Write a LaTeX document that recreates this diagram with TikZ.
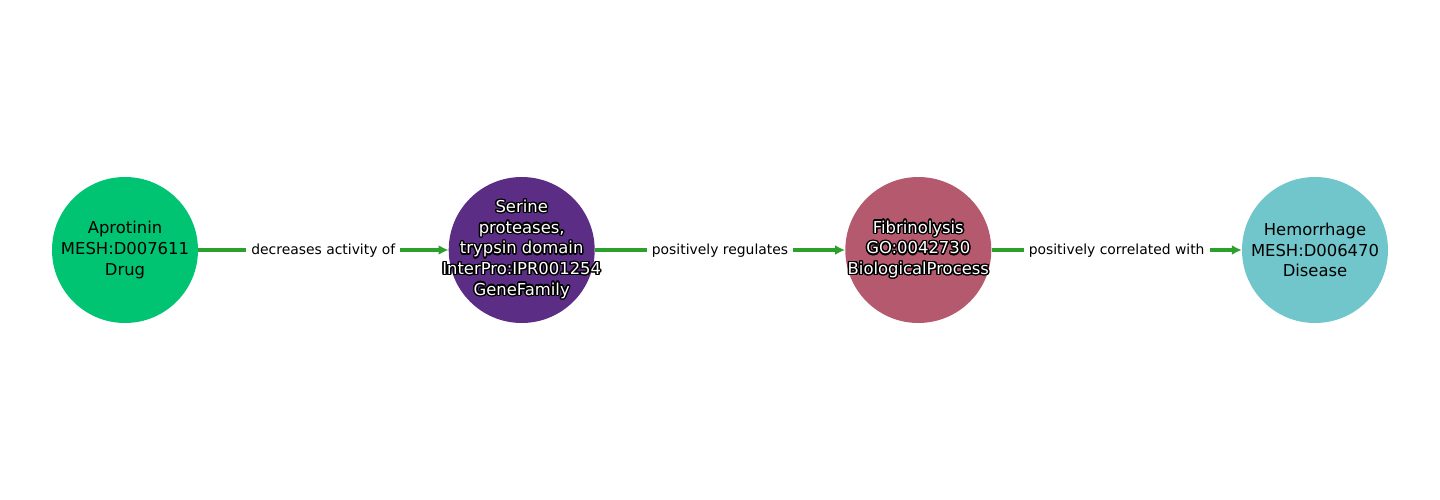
\documentclass[tikz,border=0pt]{standalone}
\usepackage{fontspec}
\setmainfont{DejaVu Sans}
\usepackage{contour}
\contourlength{1.4pt}
\usetikzlibrary{arrows.meta}

\definecolor{drugcol}{HTML}{00C472}
\definecolor{genecol}{HTML}{5B2D85}
\definecolor{procol}{HTML}{B5596E}
\definecolor{discol}{HTML}{70C6CA}
\definecolor{edgecol}{HTML}{2CA02C}

\newcommand{\halo}[1]{{\color{white}\contour{black}{#1}}}

\tikzset{
  entity/.style={circle, minimum size=146pt, inner sep=0pt},
  entitytext/.style={align=center, inner sep=0pt,
    font=\fontsize{16.4pt}{20.7pt}\selectfont},
  relation/.style={draw=edgecol, line width=3.4pt,
    -{Latex[length=10pt,width=10pt]}},
  rellabel/.style={fill=white, inner sep=5pt, yshift=-1pt,
    font=\fontsize{13.9pt}{16pt}\selectfont}
}

\begin{document}
\begin{tikzpicture}[x=1pt,y=-1pt]
\useasboundingbox (0,0) rectangle (1440,500);
\node[entity, fill=drugcol, label={[entitytext]center:{Aprotinin\\MESH:D007611\\Drug}}] (aprotinin) at (125,250) {};
\node[entity, fill=genecol, label={[entitytext]center:{\halo{Serine}\\\halo{proteases,}\\\halo{trypsin domain}\\\halo{InterPro:IPR001254}\\\halo{GeneFamily}}}] (serine) at (521.7,250) {};
\node[entity, fill=procol, label={[entitytext]center:{\halo{Fibrinolysis}\\\halo{GO:0042730}\\\halo{BiologicalProcess}}}] (fibrin) at (918.3,250) {};
\node[entity, fill=discol, label={[entitytext]center:{Hemorrhage\\MESH:D006470\\Disease}}] (hemorrhage) at (1315,250) {};

\draw[relation] (aprotinin) -- node[rellabel] {decreases activity of} (serine);
\draw[relation] (serine) -- node[rellabel] {positively regulates} (fibrin);
\draw[relation] (fibrin) -- node[rellabel] {positively correlated with} (hemorrhage);
\end{tikzpicture}
\end{document}
